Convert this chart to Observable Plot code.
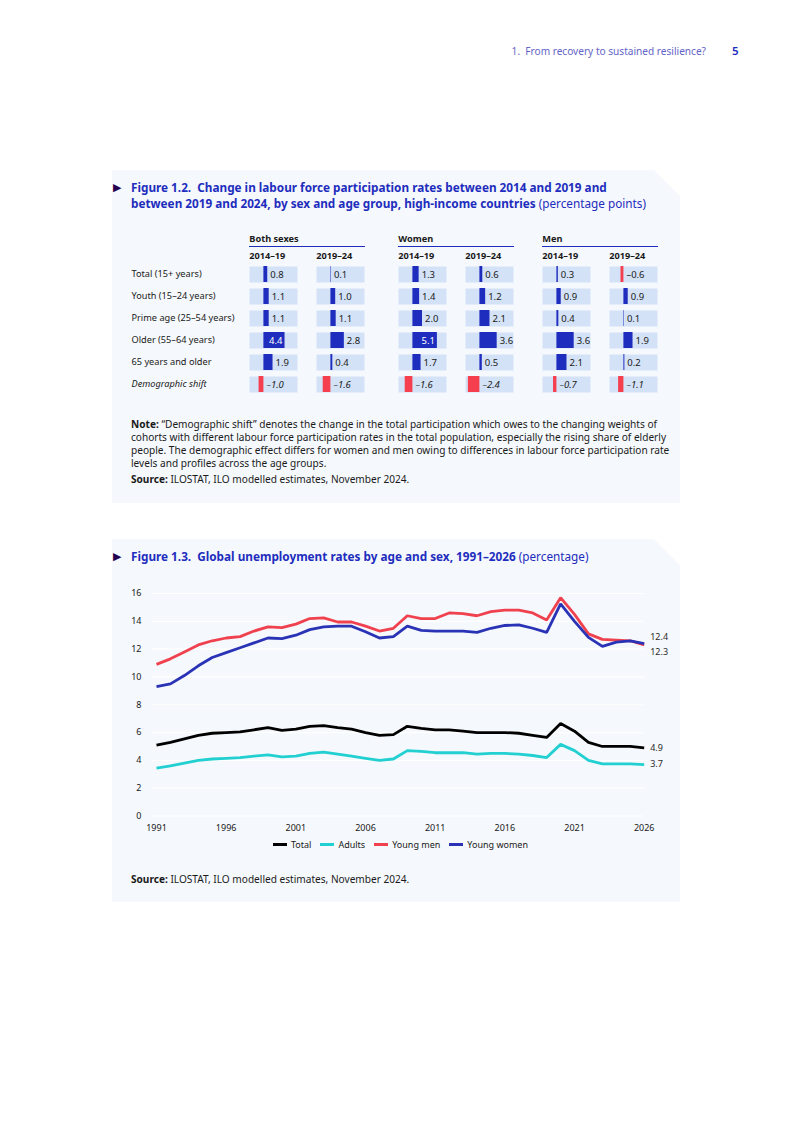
<!DOCTYPE html>
<html>
<head>
<meta charset="utf-8">
<script src="https://cdn.jsdelivr.net/npm/d3@7"></script>
<script src="https://cdn.jsdelivr.net/npm/@observablehq/plot@0.6"></script>
<style>
  html, body { margin:0; padding:0; }
  body { width:793px; height:1121px; position:relative; background:#fff; font-family:"Noto Sans", sans-serif; color:#1a1a1a; overflow:hidden; }
  .abs { position:absolute; }
  .box { position:absolute; background:#f5f8fc; clip-path: polygon(0 0, calc(100% - 26px) 0, 100% 26px, 100% 100%, 0 100%); }
  .title { position:absolute; left:113px; font-size:11.75px; line-height:16px; color:#1e2dbe; white-space:nowrap; }
  .title b { font-weight:700; }
  .tri { position:absolute; left:0; top:0; color:#230050; font-size:11px; line-height:16px; }
  .title .txt { margin-left:18px; display:block; }
  .note { position:absolute; left:131px; font-size:10.1px; line-height:13px; white-space:nowrap; color:#1a1a1a; }
  .ghead { position:absolute; font-size:9.2px; font-weight:700; border-bottom:1px solid #1e2dbe; height:13px; line-height:12px; }
  .legend { position:absolute; display:flex; gap:9px; font-size:9px; align-items:center; white-space:nowrap; }
  .legend span.sw { display:inline-block; width:14px; height:3px; margin-right:4px; vertical-align:middle; position:relative; top:-1px; }
</style>
</head>
<body>
<div class="abs" style="left:460px; top:44px; width:246px; text-align:right; font-size:10.1px; color:#6464c8; white-space:nowrap;">1.&nbsp; From recovery to sustained resilience?</div>
<div class="abs" style="left:732px; top:43px; font-size:11.5px; color:#1e2dbe; font-weight:600;">5</div>

<!-- Figure 1.2 -->
<div class="box" style="left:112px; top:170px; width:568px; height:333px;"></div>
<div class="title" style="top:179px;"><span class="tri">&#9654;</span><span class="txt"><b>Figure 1.2.&nbsp; Change in labour force participation rates between 2014 and 2019 and</b></span><span class="txt"><b>between 2019 and 2024, by sex and age group, high-income countries</b> (percentage points)</span></div>
<div id="gheads"></div>
<div id="table"></div>
<div class="note" style="top:418px;"><b>Note:</b> “Demographic shift” denotes the change in the total participation which owes to the changing weights of<br>cohorts with different labour force participation rates in the total population, especially the rising share of elderly<br>people. The demographic effect differs for women and men owing to differences in labour force participation rate<br>levels and profiles across the age groups.</div>
<div class="note" style="top:473px;"><b>Source:</b> ILOSTAT, ILO modelled estimates, November 2024.</div>

<!-- Figure 1.3 -->
<div class="box" style="left:112px; top:539px; width:568px; height:363px;"></div>
<div class="title" style="top:548px;"><span class="tri">&#9654;</span><span class="txt"><b>Figure 1.3.&nbsp; Global unemployment rates by age and sex, 1991–2026</b> (percentage)</span></div>
<div id="lines" class="abs" style="left:112px; top:583px;"></div>
<div id="legend" class="legend" style="left:112px; top:838px; width:577px; justify-content:center;"></div>
<div class="note" style="top:873px;"><b>Source:</b> ILOSTAT, ILO modelled estimates, November 2024.</div>

<script>
// ---------- Figure 1.2 data ----------
const rowLabels = ["Total (15+ years)", "Youth (15–24 years)", "Prime age (25–54 years)", "Older (55–64 years)", "65 years and older", "Demographic shift"];
const periods = ["2014–19", "2019–24"];
const sexes = ["Both sexes", "Women", "Men"];
const both1419  = [0.8, 1.1, 1.1, 4.4, 1.9, -1.0];
const both1924  = [0.1, 1.0, 1.1, 2.8, 0.4, -1.6];
const women1419 = [1.3, 1.4, 2.0, 5.1, 1.7, -1.6];
const women1924 = [0.6, 1.2, 2.1, 3.6, 0.5, -2.4];
const men1419   = [0.3, 0.9, 0.4, 3.6, 2.1, -0.7];
const men1924   = [-0.6, 0.9, 0.1, 1.9, 0.2, -1.1];

// ---------- Figure 1.3 data ----------
const years = [1991,1992,1993,1994,1995,1996,1997,1998,1999,2000,2001,2002,2003,2004,2005,2006,2007,2008,2009,2010,2011,2012,2013,2014,2015,2016,2017,2018,2019,2020,2021,2022,2023,2024,2025,2026];
const total  = [5.1,5.3,5.55,5.8,5.95,6.0,6.05,6.2,6.35,6.15,6.25,6.45,6.5,6.35,6.25,6.0,5.8,5.85,6.45,6.3,6.2,6.2,6.1,6.0,6.0,6.0,5.95,5.8,5.65,6.65,6.1,5.3,5.0,5.0,5.0,4.9];
const adults = [3.45,3.6,3.8,4.0,4.1,4.15,4.2,4.3,4.4,4.25,4.3,4.5,4.6,4.45,4.3,4.15,4.0,4.1,4.7,4.65,4.55,4.55,4.55,4.45,4.5,4.5,4.45,4.35,4.2,5.15,4.7,4.0,3.75,3.75,3.75,3.7];
const youngMen = [10.9,11.3,11.8,12.3,12.6,12.8,12.9,13.3,13.6,13.55,13.8,14.2,14.25,13.95,13.95,13.65,13.3,13.5,14.4,14.2,14.2,14.6,14.55,14.4,14.7,14.8,14.8,14.6,14.1,15.7,14.5,13.1,12.7,12.65,12.6,12.3];
const youngWomen = [9.3,9.5,10.1,10.8,11.4,11.75,12.1,12.45,12.8,12.75,13.0,13.4,13.6,13.65,13.65,13.25,12.8,12.9,13.65,13.35,13.3,13.3,13.3,13.2,13.5,13.7,13.75,13.5,13.2,15.25,14.0,12.85,12.2,12.5,12.6,12.4];
const seriesNames = ["Total", "Adults", "Young men", "Young women"];
const xTicks = [1991, 1996, 2001, 2006, 2011, 2016, 2021, 2026];
const yTicks = [0, 2, 4, 6, 8, 10, 12, 14, 16];

// ---------- styles ----------
const BLUE = "#1e2dbe", RED = "#f53e4e", CELL = "#d3e2f6";
const seriesColors = ["#000000", "#22d0d2", "#f0414f", "#2a33b5"];
const endDy = {"Total": 0, "Adults": 0, "Young men": 7, "Young women": -6};

const fmt = v => v.toFixed(1).replace("-", "–");

// ---------- Figure 1.2 ----------
const groupValues = [[both1419, both1924], [women1419, women1924], [men1419, men1924]];
const groupLeft = [249.3, 398.3, 542.3];
const tableTop = 244;
const cellsW = 116;

const gh = document.getElementById("gheads");
sexes.forEach((s, i) => {
  const d = document.createElement("div");
  d.className = "ghead";
  d.style.left = groupLeft[i] + "px";
  d.style.top = "233px";
  d.style.width = cellsW + "px";
  d.textContent = s;
  gh.appendChild(d);
});

function textMarks(data, italic) {
  const base = {fx: "period", fy: "row", text: d => fmt(d.value), fontSize: 9.5, fontStyle: italic ? "italic" : "normal"};
  return [
    Plot.text(data.filter(d => d.value >= 0 && d.value <= 4), {...base, x: "value", textAnchor: "start", dx: 2.5, fill: "#1a1a1a"}),
    Plot.text(data.filter(d => d.value > 4), {...base, x: "value", textAnchor: "end", dx: -2.5, fill: "#ffffff"}),
    Plot.text(data.filter(d => d.value < 0), {...base, x: d => 0, textAnchor: "start", dx: 2.5, fill: "#1a1a1a"})
  ];
}

const tableDiv = document.getElementById("table");
groupValues.forEach((vals, gi) => {
  const data = [];
  vals.forEach((arr, pi) => arr.forEach((v, ri) => data.push({period: periods[pi], row: rowLabels[ri], value: v})));
  const first = gi === 0;
  const mLeft = first ? 118 : 0;
  const regular = data.filter(d => d.row !== "Demographic shift");
  const italic = data.filter(d => d.row === "Demographic shift");
  const marks = [
    Plot.frame({fill: CELL, stroke: null}),
    Plot.barX(data, {fx: "period", fy: "row", x: "value", fill: d => d.value < 0 ? RED : BLUE}),
    ...textMarks(regular, false),
    ...textMarks(italic, true),
    Plot.axisFx({anchor: "top", tickSize: 0, tickPadding: 7.5, textAnchor: "start", dx: -24.25, fontWeight: "bold", fontSize: 9.2, label: null})
  ];
  if (first) {
    marks.push(Plot.text(rowLabels.filter(r => r !== "Demographic shift"), {fy: d => d, fx: () => periods[0], text: d => d, frameAnchor: "left", textAnchor: "start", dx: -118, fontSize: 9.2, fill: "#1a1a1a"}));
    marks.push(Plot.text(rowLabels.filter(r => r === "Demographic shift"), {fy: d => d, fx: () => periods[0], text: d => d, frameAnchor: "left", textAnchor: "start", dx: -118, fontSize: 9.2, fontStyle: "italic", fill: "#1a1a1a"}));
  }
  const p = Plot.plot({
    width: mLeft + cellsW + 2,
    height: 20 + 130.3 + 3,
    marginLeft: mLeft, marginRight: 2, marginTop: 20, marginBottom: 3,
    style: {fontFamily: "Noto Sans", fontSize: "9px", background: "transparent", color: "#1a1a1a", overflow: "visible"},
    x: {domain: [-3, 7], axis: null},
    fx: {domain: periods, paddingInner: 0.2815, paddingOuter: 0, axis: null},
    fy: {domain: rowLabels, paddingInner: 0.264, paddingOuter: 0, axis: null},
    marks
  });
  p.style.position = "absolute";
  p.style.left = (groupLeft[gi] - mLeft) + "px";
  p.style.top = tableTop + "px";
  tableDiv.appendChild(p);
});

// ---------- Figure 1.3 ----------
const seriesValues = [total, adults, youngMen, youngWomen];
const lineData = seriesNames.flatMap((name, si) => years.map((y, i) => ({year: y, value: seriesValues[si][i], key: name})));
const lastYear = years[years.length - 1];

const linePlot = Plot.plot({
  width: 568, height: 255,
  marginLeft: 44, marginRight: 36.3, marginTop: 10, marginBottom: 22.5,
  style: {fontFamily: "Noto Sans", fontSize: "9px", background: "transparent", color: "#1a1a1a", overflow: "visible"},
  x: {domain: [years[0], lastYear], label: null},
  y: {domain: [0, 16], label: null},
  color: {domain: seriesNames, range: seriesColors},
  marks: [
    Plot.ruleY(yTicks, {stroke: "#ffffff", strokeWidth: 1.2, insetLeft: -4}),
    Plot.axisY({ticks: yTicks, tickSize: 0, tickPadding: 15, label: null, fontSize: 9}),
    Plot.axisX({ticks: xTicks, tickSize: 0, tickPadding: 9, tickFormat: "d", label: null, fontSize: 9}),
    Plot.line(lineData, {x: "year", y: "value", z: "key", stroke: "key", strokeWidth: 2.8, strokeLinejoin: "miter", strokeLinecap: "butt"}),
    ...seriesNames.map(name => Plot.text(lineData.filter(d => d.key === name && d.year === lastYear), {x: "year", y: "value", text: d => d.value.toFixed(1), textAnchor: "start", dx: 6, dy: endDy[name], fill: "#2a2a2a", fontSize: 9}))
  ]
});
document.getElementById("lines").appendChild(linePlot);

const leg = document.getElementById("legend");
seriesNames.forEach((name, i) => {
  const item = document.createElement("span");
  item.innerHTML = `<span class="sw" style="background:${seriesColors[i]}"></span>${name}`;
  leg.appendChild(item);
});
</script>
</body>
</html>
